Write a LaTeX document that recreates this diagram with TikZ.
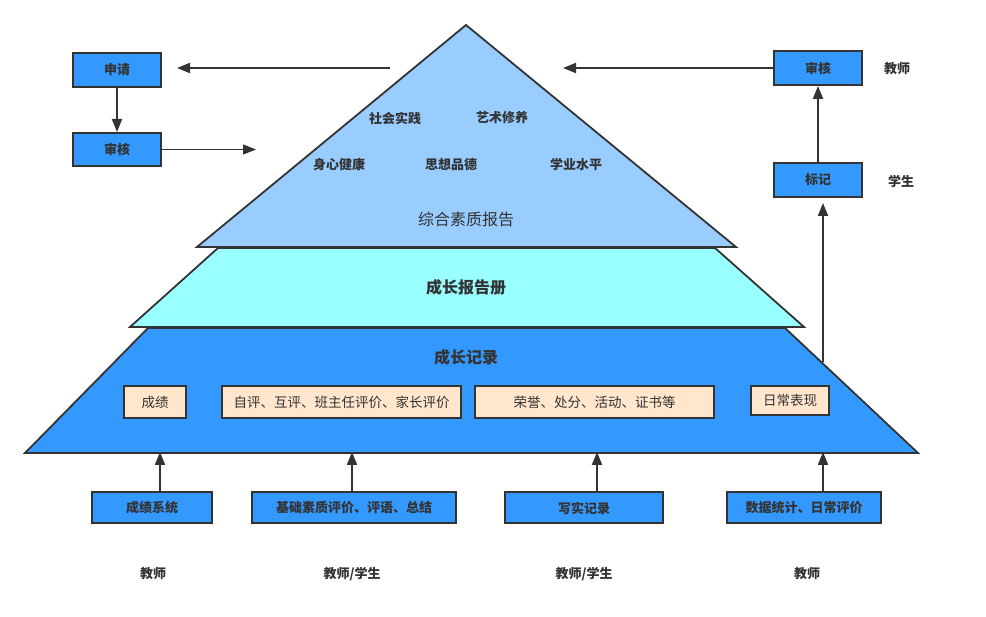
\documentclass[tikz,border=0pt]{standalone}
\usepackage{fontspec}
\setmainfont{Noto Sans CJK SC}
\usetikzlibrary{arrows.meta}
\definecolor{edge}{HTML}{333333}
\definecolor{topfill}{HTML}{99CCFF}
\definecolor{midfill}{HTML}{99FFFF}
\definecolor{botfill}{HTML}{3399FF}
\definecolor{peach}{HTML}{FFE6CC}
\tikzset{
  layer/.style={draw=edge, line width=1.8pt, line join=miter},
  bluebox/.style={draw=edge, fill=botfill, line width=2pt, minimum height=33pt, inner sep=0pt, font=\fontsize{13}{15}\selectfont\bfseries, text=edge},
  peachbox/.style={draw=edge, fill=peach, line width=2pt, minimum height=32pt, inner sep=0pt, font=\fontsize{13.5}{15}\selectfont, text=edge},
  lbl/.style={font=\fontsize{13}{15}\selectfont\bfseries, text=edge, inner sep=0pt},
  big/.style={font=\fontsize{16}{18}\selectfont, text=edge, inner sep=0pt},
  arr/.style={draw=edge, line width=2pt, -{Triangle[length=13pt,width=10pt]}},
  thinarr/.style={draw=edge, line width=1.4pt, -{Triangle[length=13pt,width=10pt]}},
}
\begin{document}
\begin{tikzpicture}[x=1pt,y=-1pt]
\useasboundingbox (0,0) rectangle (986,617);
% pyramid layers
\path[layer, fill=botfill] (148,328) -- (785,328) -- (918,453) -- (25,453) -- cycle;
\path[layer, fill=midfill] (218,248) -- (715,248) -- (804,327) -- (130,327) -- cycle;
\path[layer, fill=topfill] (466,25) -- (736,247) -- (197,247) -- cycle;
% pyramid texts
\node[lbl] (t1) at (395,118) {社会实践};
\node[lbl] (t2) at (502,118) {艺术修养};
\node[lbl] (t3) at (339,165) {身心健康};
\node[lbl] (t4) at (451,165) {思想品德};
\node[lbl] (t5) at (576,165) {学业水平};
\node[big] (report) at (466,219) {综合素质报告};
\node[big, font=\fontsize{16}{18}\selectfont\bfseries] (book) at (466,287) {成长报告册};
\node[big, font=\fontsize{16}{18}\selectfont\bfseries] (record) at (466,357) {成长记录};
% inner peach boxes
\node[peachbox, minimum width=62pt] (p1) at (155,402) {成绩};
\node[peachbox, minimum width=239pt] (p2) at (341.5,402) {自评、互评、班主任评价、家长评价};
\node[peachbox, minimum width=239pt] (p3) at (594.5,402) {荣誉、处分、活动、证书等};
\node[peachbox, minimum width=78pt, minimum height=29pt] (p4) at (790,400.5) {日常表现};
% bottom source boxes
\node[bluebox, minimum width=120pt, minimum height=31pt] (b1) at (152,508) {成绩系统};
\node[bluebox, minimum width=204pt, minimum height=31pt] (b2) at (354,508) {基础素质评价、评语、总结};
\node[bluebox, minimum width=158pt, minimum height=31pt] (b3) at (584,508) {写实记录};
\node[bluebox, minimum width=154pt, minimum height=31pt] (b4) at (804,508) {数据统计、日常评价};
\node[lbl] (r1) at (153,574) {教师};
\node[lbl] (r2) at (352,574) {教师/学生};
\node[lbl] (r3) at (584,574) {教师/学生};
\node[lbl] (r4) at (807,574) {教师};
% arrows from bottom boxes to pyramid base
\coordinate (e1) at (160,452);
\coordinate (e2) at (352,452);
\coordinate (e3) at (597,452);
\coordinate (e4) at (823,452);
\draw[arr] (b1.north -| e1) -- (e1);
\draw[arr] (b2.north -| e2) -- (e2);
\draw[arr] (b3.north -| e3) -- (e3);
\draw[arr] (b4.north -| e4) -- (e4);
% left flow
\node[bluebox, minimum width=88pt, minimum height=34pt] (apply) at (117,70) {申请};
\node[bluebox, minimum width=88pt, minimum height=33pt] (checkL) at (117,149.5) {审核};
\coordinate (fromTop) at (390,68);
\coordinate (applyTip) at (177,68);
\coordinate (toPyr) at (256,149.5);
\draw[arr] (fromTop) -- (applyTip);
\draw[arr] (apply) -- (checkL);
\draw[thinarr] (checkL) -- (toPyr);
% right flow
\node[bluebox, minimum width=88pt, minimum height=34pt] (checkR) at (818,68) {审核};
\node[bluebox, minimum width=88pt, minimum height=34pt] (mark) at (818,180) {标记};
\node[lbl] (teacherR) at (897,69) {教师};
\node[lbl] (studentR) at (901,181) {学生};
\coordinate (toTop) at (563,68);
\coordinate (edgeR) at (823,362);
\coordinate (markTip) at (823,203);
\draw[arr] (checkR) -- (toTop);
\draw[arr] (mark) -- (checkR);
\draw[arr] (edgeR) -- (markTip);
\end{tikzpicture}
\end{document}
